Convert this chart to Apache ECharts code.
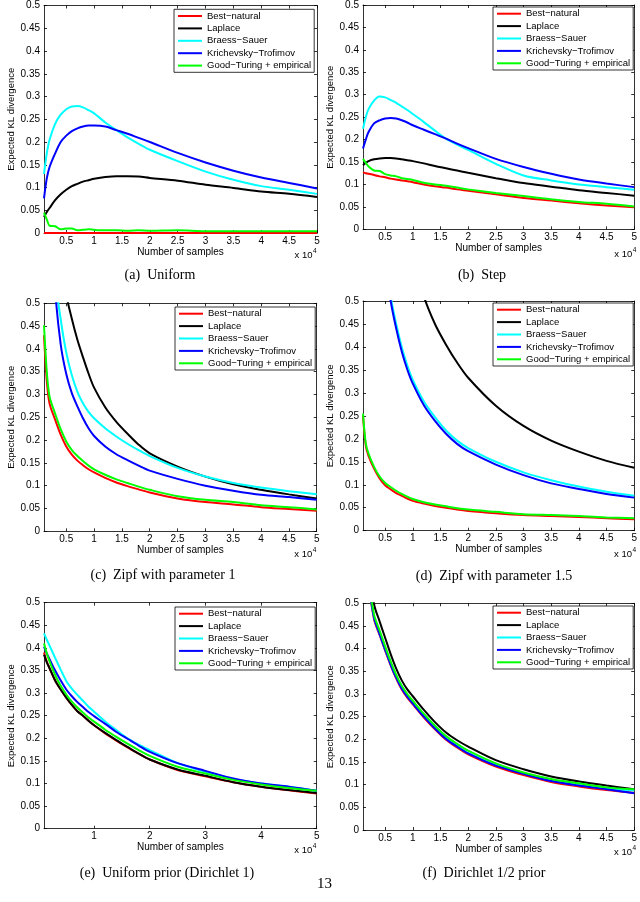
<!DOCTYPE html>
<html>
<head>
<meta charset="utf-8">
<script src="https://cdn.jsdelivr.net/npm/echarts@6/dist/echarts.min.js"></script>
<style>
html,body{margin:0;padding:0;background:#fff;}
#chart{width:640px;height:902px;}
</style>
</head>
<body>
<div id="chart"></div>
<script>
// ---- shared data ----
const samples = [1000,1500,2000,3000,4000,5000,6000,7000,8000,9000,10000,12000,14000,16000,18000,20000,25000,30000,35000,40000,45000,50000];
const seriesNames = ['Best\u2212natural','Laplace','Braess\u2212Sauer','Krichevsky\u2212Trofimov','Good\u2212Turing + empirical'];
const seriesColors = ['#ff0000','#000000','#00ffff','#0000ff','#00ff00'];
const xTicksHalf = [5000,10000,15000,20000,25000,30000,35000,40000,45000,50000];
const xTicksWhole = [10000,20000,30000,40000,50000];
const captions = ['(a)  Uniform','(b)  Step','(c)  Zipf with parameter 1','(d)  Zipf with parameter 1.5','(e)  Uniform prior (Dirichlet 1)','(f)  Dirichlet 1/2 prior'];

// (a) Uniform
const uniformBest    = [0,0,0,0,0,0,0,0,0,0,0,0,0,0,0,0,0,0,0,0,0,0];
const uniformLaplace = [0.035,0.046,0.055,0.072,0.085,0.095,0.103,0.108,0.113,0.116,0.119,0.123,0.125,0.125,0.124,0.121,0.115,0.106,0.099,0.091,0.086,0.079];
const uniformBraess  = [0.13,0.175,0.205,0.24,0.26,0.272,0.278,0.279,0.276,0.27,0.263,0.243,0.226,0.21,0.196,0.183,0.158,0.135,0.117,0.103,0.095,0.086];
const uniformKT      = [0.076,0.12,0.145,0.175,0.2,0.214,0.224,0.23,0.234,0.236,0.236,0.234,0.226,0.218,0.209,0.2,0.176,0.155,0.137,0.122,0.11,0.098];
const uniformGT      = [0.045,0.03,0.016,0.015,0.008,0.01,0.01,0.006,0.007,0.008,0.007,0.006,0.006,0.005,0.006,0.005,0.006,0.004,0.004,0.004,0.004,0.004];

// (b) Step
const stepBest    = [0.127,0.125,0.124,0.121,0.118,0.116,0.113,0.111,0.109,0.107,0.105,0.1,0.096,0.093,0.089,0.086,0.078,0.07,0.064,0.058,0.053,0.049];
const stepLaplace = [0.143,0.148,0.152,0.156,0.158,0.159,0.159,0.158,0.156,0.154,0.152,0.147,0.141,0.136,0.131,0.126,0.114,0.103,0.095,0.087,0.081,0.075];
const stepBraess  = [0.224,0.25,0.268,0.287,0.296,0.294,0.288,0.282,0.274,0.266,0.257,0.239,0.22,0.202,0.189,0.177,0.146,0.12,0.109,0.1,0.094,0.088];
const stepKT      = [0.18,0.2,0.217,0.236,0.243,0.247,0.248,0.247,0.243,0.238,0.232,0.222,0.212,0.202,0.191,0.181,0.157,0.139,0.124,0.111,0.102,0.094];
const stepGT      = [0.157,0.148,0.14,0.131,0.13,0.123,0.12,0.118,0.114,0.112,0.11,0.104,0.1,0.097,0.093,0.089,0.081,0.074,0.067,0.061,0.057,0.051];

// (c) Zipf with parameter 1
const zipf1Best    = [0.43,0.33,0.28,0.245,0.212,0.186,0.168,0.155,0.145,0.136,0.129,0.117,0.107,0.099,0.092,0.085,0.072,0.064,0.059,0.053,0.049,0.045];
const zipf1Laplace = [2.0,1.5,1.2,0.85,0.64,0.52,0.466,0.42,0.382,0.346,0.315,0.272,0.24,0.214,0.19,0.171,0.142,0.12,0.103,0.091,0.081,0.072];
const zipf1Braess  = [1.3,1.0,0.8,0.56,0.465,0.392,0.342,0.306,0.281,0.262,0.248,0.226,0.208,0.192,0.178,0.165,0.139,0.12,0.106,0.096,0.088,0.081];
const zipf1KT      = [1.2,0.95,0.76,0.53,0.41,0.345,0.303,0.274,0.248,0.226,0.209,0.186,0.169,0.156,0.144,0.133,0.115,0.1,0.089,0.08,0.075,0.069];
const zipf1GT      = [0.452,0.35,0.295,0.258,0.224,0.197,0.178,0.165,0.154,0.144,0.136,0.124,0.114,0.106,0.098,0.091,0.077,0.069,0.064,0.057,0.053,0.048];

// (d) Zipf with parameter 1.5
const zipf15Best    = [0.25,0.185,0.163,0.135,0.114,0.099,0.09,0.082,0.076,0.07,0.065,0.059,0.054,0.05,0.046,0.043,0.038,0.034,0.032,0.03,0.027,0.025];
const zipf15Laplace = [3.3,2.6,2.1,1.5,1.2,1.02,0.9,0.8,0.72,0.655,0.6,0.51,0.45,0.405,0.366,0.333,0.272,0.228,0.196,0.172,0.152,0.137];
const zipf15Braess  = [2.3,1.7,1.35,0.95,0.73,0.6,0.51,0.45,0.4,0.36,0.328,0.281,0.247,0.218,0.196,0.18,0.15,0.127,0.11,0.096,0.085,0.076];
const zipf15KT      = [2.25,1.65,1.3,0.93,0.72,0.59,0.5,0.44,0.39,0.351,0.32,0.273,0.239,0.211,0.189,0.173,0.144,0.121,0.103,0.091,0.08,0.072];
const zipf15GT      = [0.255,0.19,0.168,0.139,0.118,0.104,0.095,0.087,0.08,0.074,0.069,0.062,0.057,0.053,0.049,0.046,0.041,0.036,0.034,0.032,0.029,0.027];

// (e) Uniform prior (Dirichlet 1)
const dir1Best    = [0.39,0.37,0.355,0.328,0.308,0.29,0.274,0.26,0.25,0.239,0.229,0.211,0.195,0.18,0.166,0.153,0.13,0.116,0.103,0.093,0.085,0.078];
const dir1Laplace = [0.385,0.368,0.355,0.328,0.308,0.29,0.274,0.26,0.25,0.239,0.229,0.212,0.196,0.181,0.166,0.153,0.131,0.117,0.103,0.093,0.0855,0.079];
const dir1Braess  = [0.432,0.418,0.405,0.378,0.352,0.327,0.31,0.296,0.283,0.27,0.259,0.237,0.218,0.2,0.186,0.174,0.145,0.126,0.11,0.1,0.093,0.084];
const dir1KT      = [0.403,0.388,0.375,0.35,0.328,0.308,0.293,0.28,0.269,0.258,0.249,0.232,0.214,0.199,0.184,0.17,0.145,0.128,0.111,0.1,0.093,0.084];
const dir1GT      = [0.41,0.388,0.37,0.34,0.316,0.297,0.281,0.268,0.257,0.246,0.237,0.219,0.203,0.188,0.174,0.161,0.137,0.122,0.108,0.098,0.09,0.084];

// (f) Dirichlet 1/2 prior
const dirHalfBest    = [0.77,0.62,0.545,0.465,0.43,0.396,0.363,0.334,0.31,0.292,0.277,0.248,0.222,0.199,0.182,0.167,0.14,0.121,0.106,0.096,0.088,0.082];
const dirHalfLaplace = [0.85,0.7,0.6,0.498,0.46,0.424,0.388,0.356,0.33,0.31,0.295,0.265,0.238,0.215,0.198,0.184,0.154,0.134,0.118,0.107,0.098,0.09];
const dirHalfBraess  = [0.78,0.63,0.55,0.469,0.433,0.399,0.366,0.337,0.313,0.295,0.28,0.251,0.225,0.202,0.185,0.17,0.143,0.125,0.109,0.099,0.091,0.087];
const dirHalfKT      = [0.78,0.63,0.55,0.468,0.432,0.398,0.365,0.336,0.312,0.294,0.279,0.25,0.224,0.201,0.184,0.169,0.142,0.124,0.108,0.098,0.09,0.081];
const dirHalfGT      = [0.8,0.65,0.56,0.475,0.44,0.405,0.372,0.342,0.318,0.3,0.285,0.256,0.23,0.207,0.19,0.175,0.147,0.127,0.1125,0.103,0.094,0.0897];

const panelSeries = [
  [uniformBest, uniformLaplace, uniformBraess, uniformKT, uniformGT],
  [stepBest, stepLaplace, stepBraess, stepKT, stepGT],
  [zipf1Best, zipf1Laplace, zipf1Braess, zipf1KT, zipf1GT],
  [zipf15Best, zipf15Laplace, zipf15Braess, zipf15KT, zipf15GT],
  [dir1Best, dir1Laplace, dir1Braess, dir1KT, dir1GT],
  [dirHalfBest, dirHalfLaplace, dirHalfBraess, dirHalfKT, dirHalfGT]
];
const panelXTicks = [xTicksHalf, xTicksHalf, xTicksHalf, xTicksHalf, xTicksWhole, xTicksHalf];

// ---- layout ----
const grids = [
  {left:44,  top:5.5, width:273,   height:227.5},
  {left:363, top:3.8, width:273.7, height:225.5},
  {left:44,  top:303.3, width:272.7, height:228},
  {left:363, top:301, width:273.5, height:229.7},
  {left:44,  top:602.7, width:272.7, height:226},
  {left:363, top:603.3, width:273.5, height:226.7}
];
const legendPos = [[174,9.3],[493,7],[175,307],[493,303],[175,607],[493,606]];
const captionPos = [[160,275],[482,275],[163,575],[494,576],[167,873],[484,873]];
const x10Y = [255.3,254,554.3,554,850.7,852.3];

const FONT = '"Liberation Sans", Arial, sans-serif';
const axisLineStyle = {color:'#000', width:0.8};

const xAxes = [], yAxes = [], series = [], legends = [], graphics = [];
grids.forEach((g, i) => {
  const ticks = panelXTicks[i];
  xAxes.push({
    gridIndex:i, type:'value', min:1000, max:50000, position:'bottom',
    axisLine:{show:true, onZero:false, lineStyle:axisLineStyle},
    axisTick:{show:true, inside:true, length:3, customValues:ticks, lineStyle:axisLineStyle},
    axisLabel:{show:true, customValues:ticks, formatter:v => String(v/10000), fontSize:10, color:'#000', fontFamily:FONT, margin:3},
    splitLine:{show:false},
    name:'Number of samples', nameLocation:'middle', nameGap:13,
    nameTextStyle:{fontSize:10, color:'#000', fontFamily:FONT}
  });
  xAxes.push({
    gridIndex:i, type:'value', min:1000, max:50000, position:'top',
    axisLine:{show:true, onZero:false, lineStyle:axisLineStyle},
    axisTick:{show:true, inside:true, length:3, customValues:ticks, lineStyle:axisLineStyle},
    axisLabel:{show:false}, splitLine:{show:false}
  });
  yAxes.push({
    gridIndex:i, type:'value', min:0, max:0.5, interval:0.05, position:'left',
    axisLine:{show:true, onZero:false, lineStyle:axisLineStyle},
    axisTick:{show:true, inside:true, length:3, lineStyle:axisLineStyle},
    axisLabel:{show:true, fontSize:10, color:'#000', fontFamily:FONT, margin:4,
      formatter:v => String(Math.round(v*100)/100)},
    splitLine:{show:false},
    name:'Expected KL divergence', nameLocation:'middle', nameGap:25,
    nameTextStyle:{fontSize:9.5, color:'#000', fontFamily:FONT}
  });
  yAxes.push({
    gridIndex:i, type:'value', min:0, max:0.5, interval:0.05, position:'right',
    axisLine:{show:true, onZero:false, lineStyle:axisLineStyle},
    axisTick:{show:true, inside:true, length:3, lineStyle:axisLineStyle},
    axisLabel:{show:false}, splitLine:{show:false}
  });
  panelSeries[i].forEach((vals, k) => {
    series.push({
      type:'line', name:seriesNames[k], xAxisIndex:2*i, yAxisIndex:2*i,
      data:samples.map((x, j) => [x, vals[j]]),
      showSymbol:false, symbol:'none', smooth:0.3,
      clip: i !== 0,
      color:seriesColors[k],
      lineStyle:{color:seriesColors[k], width:2},
      animation:false, silent:true
    });
  });
  legends.push({
    orient:'vertical', left:legendPos[i][0], top:legendPos[i][1],
    data:seriesNames, icon:'rect', itemWidth:24, itemHeight:2, itemGap:0,
    padding:[0.5,3,0.5,4], borderColor:'#000', borderWidth:0.8, backgroundColor:'#fff',
    selectedMode:false,
    textStyle:{fontSize:9.5, lineHeight:12.4, color:'#000', fontFamily:FONT}
  });
  graphics.push({
    type:'text', x:captionPos[i][0], y:captionPos[i][1],
    style:{text:captions[i], font:'14px "Liberation Serif", serif', fill:'#000', textAlign:'center', textVerticalAlign:'middle'}
  });
  const right = g.left + g.width;
  graphics.push({
    type:'text', x:right - 4.5, y:x10Y[i],
    style:{text:'x 10', font:'9.5px ' + FONT, fill:'#000', textAlign:'right', textVerticalAlign:'middle'}
  });
  graphics.push({
    type:'text', x:right - 4, y:x10Y[i] - 4,
    style:{text:'4', font:'6.5px ' + FONT, fill:'#000', textAlign:'left', textVerticalAlign:'middle'}
  });
});
graphics.push({
  type:'text', x:324.5, y:884,
  style:{text:'13', font:'15px "Liberation Serif", serif', fill:'#000', textAlign:'center', textVerticalAlign:'middle'}
});

const chart = echarts.init(document.getElementById('chart'), null, {renderer:'canvas'});
chart.setOption({
  backgroundColor:'#fff',
  animation:false,
  grid:grids.map(g => Object.assign({containLabel:false, show:false}, g)),
  xAxis:xAxes, yAxis:yAxes, legend:legends, series:series, graphic:graphics
});
</script>
</body>
</html>
